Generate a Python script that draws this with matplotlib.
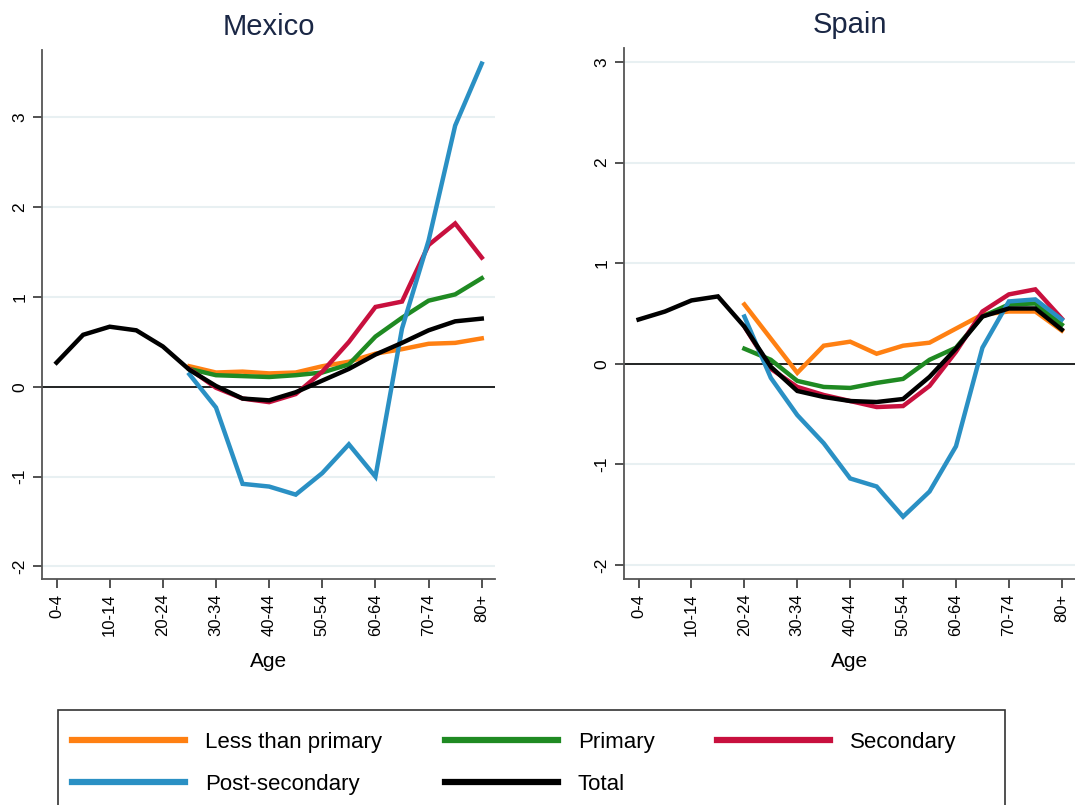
import numpy as np
import matplotlib
matplotlib.use("Agg")
import matplotlib.pyplot as plt
from matplotlib.patches import Rectangle

plt.rcParams['font.family'] = ['Liberation Sans', 'DejaVu Sans']

# age groups
ages = ['0-4', '5-9', '10-14', '15-19', '20-24', '25-29', '30-34', '35-39',
        '40-44', '45-49', '50-54', '55-59', '60-64', '65-69', '70-74', '75-79', '80+']
nan = np.nan

# Mexico
mex_less = [nan, nan, nan, nan, nan, 0.23, 0.16, 0.17, 0.15, 0.16, 0.23, 0.28, 0.37, 0.42, 0.48, 0.49, 0.54]
mex_prim = [nan, nan, nan, nan, nan, 0.20, 0.13, 0.12, 0.11, 0.13, 0.16, 0.25, 0.56, 0.77, 0.96, 1.03, 1.21]
mex_sec = [nan, nan, nan, nan, nan, 0.20, -0.01, -0.13, -0.17, -0.08, 0.17, 0.50, 0.89, 0.95, 1.58, 1.82, 1.44]
mex_post = [nan, nan, nan, nan, nan, 0.14, -0.23, -1.08, -1.11, -1.20, -0.96, -0.64, -1.00, 0.65, 1.63, 2.91, 3.60]
mex_total = [0.27, 0.58, 0.67, 0.63, 0.45, 0.19, 0.01, -0.13, -0.15, -0.06, 0.07, 0.20, 0.36, 0.49, 0.63, 0.73, 0.76]

# Spain
esp_less = [nan, nan, nan, nan, 0.59, 0.25, -0.09, 0.18, 0.22, 0.10, 0.18, 0.21, 0.35, 0.49, 0.52, 0.52, 0.33]
esp_prim = [nan, nan, nan, nan, 0.15, 0.04, -0.17, -0.23, -0.24, -0.19, -0.15, 0.04, 0.16, 0.47, 0.59, 0.60, 0.39]
esp_sec = [nan, nan, nan, nan, 0.37, -0.05, -0.23, -0.31, -0.37, -0.43, -0.42, -0.22, 0.12, 0.52, 0.69, 0.74, 0.45]
esp_post = [nan, nan, nan, nan, 0.47, -0.14, -0.51, -0.79, -1.14, -1.22, -1.52, -1.27, -0.82, 0.16, 0.62, 0.64, 0.44]
esp_total = [0.44, 0.52, 0.63, 0.67, 0.37, -0.03, -0.27, -0.33, -0.37, -0.38, -0.35, -0.13, 0.15, 0.47, 0.55, 0.55, 0.34]

labels = ['Less than primary', 'Primary', 'Secondary', 'Post-secondary', 'Total']
colors = ['#ff8012', '#1f8a22', '#c8103e', '#2a90c4', '#000000']

x = np.arange(len(ages))

fig = plt.figure(figsize=(10.75, 8.05), dpi=100)
ax1 = fig.add_axes([0.039, 0.2807, 0.4215, 0.657])
ax2 = fig.add_axes([0.5805, 0.2807, 0.4195, 0.6597])

panels = [
    (ax1, 'Mexico', [mex_less, mex_prim, mex_sec, mex_post, mex_total], 3.75),
    (ax2, 'Spain', [esp_less, esp_prim, esp_sec, esp_post, esp_total], 3.14),
]

for ax, title, series, ytop in panels:
    for s, c, lab in zip(series, colors, labels):
        ax.plot(x, s, color=c, lw=3.2, label=lab, solid_joinstyle='miter')
    ax.axhline(0, color='black', lw=1.2, zorder=1)
    ax.set_xlim(-0.55, 16.5)
    ax.set_ylim(-2.14, ytop)
    ax.set_yticks(range(-2, 4))
    ax.set_yticklabels([str(v) for v in range(-2, 4)], rotation=90, va='center', fontsize=12.5)
    ax.set_xticks(x[::2])
    ax.set_xticklabels(ages[::2], rotation=90, fontsize=12)
    ax.grid(axis='y', color='#e8f0f2', lw=1.5)
    ax.set_axisbelow(True)
    for side in ['top', 'right']:
        ax.spines[side].set_visible(False)
    for side in ['left', 'bottom']:
        ax.spines[side].set_color('#555555')
        ax.spines[side].set_linewidth(1.3)
    ax.tick_params(length=6.5, width=1.1, color='#222222', pad=4)
    ax.set_xlabel('Age', fontsize=15, labelpad=11)
    ax.set_title(title, fontsize=21, color='#1a2745', pad=11)

# legend fills column by column, so reorder to read row by row
handles, labs = ax1.get_legend_handles_labels()
order = [0, 3, 1, 4, 2]
leg = fig.legend([handles[i] for i in order], [labs[i] for i in order],
                 loc='upper left', bbox_to_anchor=(0.067, 0.0905),
                 ncol=3, frameon=False, fontsize=16, handlelength=5.1,
                 handletextpad=0.9, columnspacing=2.8, labelspacing=0.93,
                 borderpad=0, borderaxespad=0)
for h in leg.get_lines():
    h.set_linewidth(4.5)

fig.add_artist(Rectangle((58 / 1075, -0.03), (1005 - 58) / 1075, (805 * 1.03 - 710) / 805,
                         transform=fig.transFigure, fill=False, edgecolor='#333333', lw=1.2))

fig.savefig('out.png', dpi=100)
